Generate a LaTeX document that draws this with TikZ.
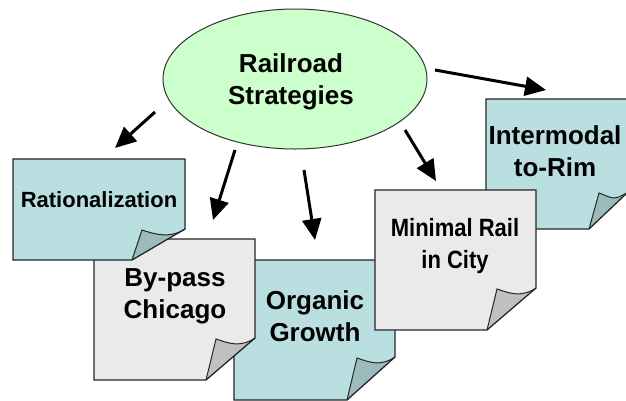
\documentclass[tikz,border=0pt]{standalone}
\usepackage{fontspec}
\setmainfont{Liberation Sans}
\usetikzlibrary{shapes.geometric,arrows.meta}
\definecolor{tealmain}{HTML}{B9DFE1}
\definecolor{tealflap}{HTML}{9BBBBD}
\definecolor{graymain}{HTML}{EAEAEA}
\definecolor{grayflap}{HTML}{C0C0C0}
\definecolor{ellfill}{HTML}{CCFFCC}
\tikzset{
  pline/.style={draw=black!85, line width=1.3pt, line join=miter},
  lbl/.style={align=center, font=\bfseries\fontsize{26}{32}\selectfont, inner sep=0pt},
  arr/.style={line width=3pt, -{Triangle[length=21pt,width=19pt]}},
}
% #1 L, #2 T, #3 R, #4 B, #5 fold x, #6 fold y, #7 colour prefix
\newcommand\paperbox[7]{%
  \fill[#7main] (#1,#2) -- (#3,#2) -- (#3,#6) -- (#5,#4) -- (#1,#4) -- cycle;
  \fill[#7flap] (#3,#6) .. controls (#3-15,#6+10) and (#5+22,#6+5) .. (#5+10,#6+1) -- (#5,#4) -- cycle;
  \draw[pline] (#1,#2) -- (#3,#2) -- (#3,#6) -- (#5,#4) -- (#1,#4) -- cycle;
  \draw[pline, line width=1pt] (#3,#6) .. controls (#3-15,#6+10) and (#5+22,#6+5) .. (#5+10,#6+1) -- (#5,#4);
}
\begin{document}
\begin{tikzpicture}[x=1pt,y=-1pt]
\clip (0,0) rectangle (626,400);
\fill[white] (0,0) rectangle (626,400);
% Organic Growth
\paperbox{234}{260}{395}{400}{347}{357}{teal}
\node[lbl] (org) at (315,316) {Organic\\Growth};
% Intermodal to-Rim
\paperbox{486}{99}{628}{229}{589}{192}{teal}
\node[lbl] (int) at (555,151) {Intermodal\\to-Rim};
% By-pass Chicago
\paperbox{94}{239}{255}{380}{206}{338}{gray}
\node[lbl] (byp) at (175,296) {By-pass\\Chicago};
% Minimal Rail in City
\paperbox{375}{190}{536}{330}{487}{288}{gray}
\node[lbl, font=\bfseries\fontsize{25}{32}\selectfont] (min) at (455,246) {\scalebox{0.88}[1]{Minimal Rail}\\\scalebox{0.88}[1]{in City}};
% Rationalization
\paperbox{13}{159}{185}{260}{132}{229}{teal}
\node[lbl, font=\bfseries\fontsize{22}{28}\selectfont] (rat) at (99,200) {Rationalization};
% Ellipse
\node[ellipse, draw=black!80, line width=1pt, fill=ellfill, minimum width=264pt, minimum height=140pt, inner sep=0pt] (rs) at (295,79) {};
\node[lbl] (rst) at (291,82) {Railroad\\Strategies};
% arrow end points
\coordinate (s1) at (155,112); \coordinate (e1) at (115,148);
\coordinate (s2) at (235,150); \coordinate (e2) at (213,220);
\coordinate (s3) at (304,170); \coordinate (e3) at (315,240);
\coordinate (s4) at (405,130); \coordinate (e4) at (436,181);
\coordinate (s5) at (435,70);  \coordinate (e5) at (546,90);
\draw[arr] (s1) -- (e1);
\draw[arr] (s2) -- (e2);
\draw[arr] (s3) -- (e3);
\draw[arr] (s4) -- (e4);
\draw[arr] (s5) -- (e5);
\end{tikzpicture}
\end{document}
